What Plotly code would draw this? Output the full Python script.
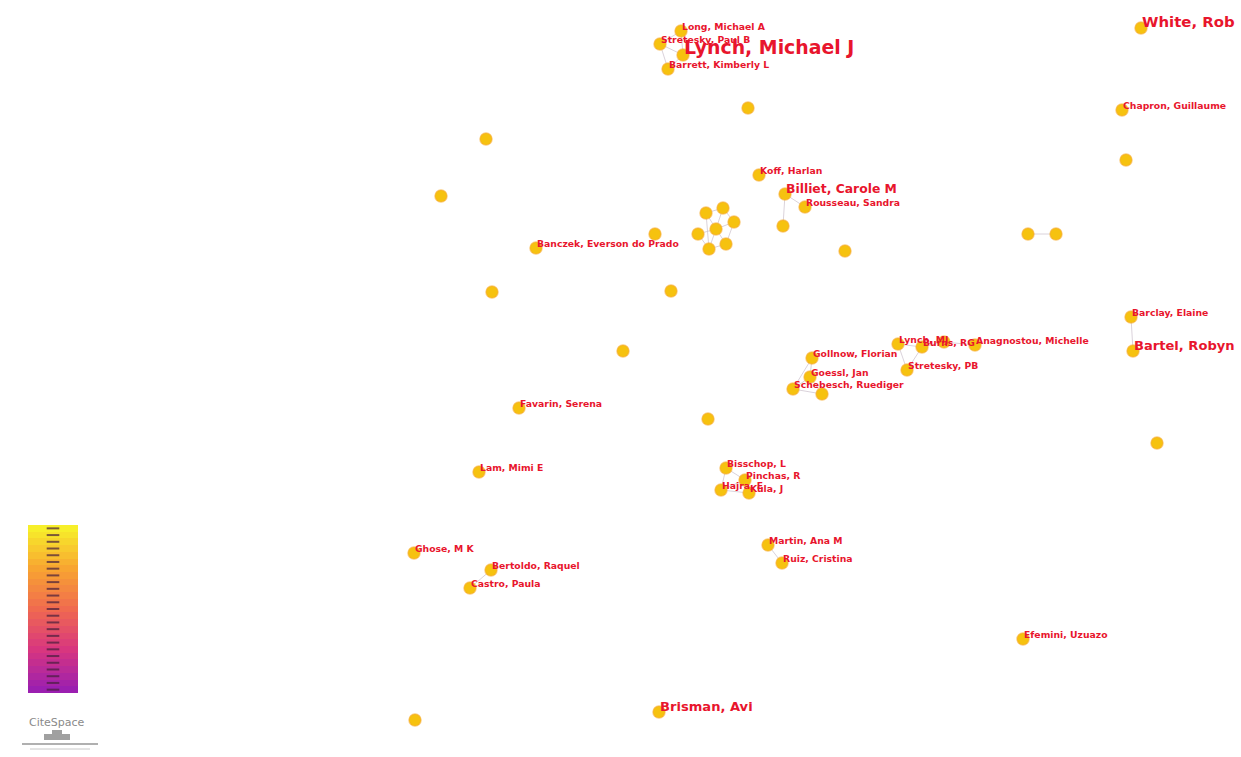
import math
import plotly.graph_objects as go

# Co-authorship network (CiteSpace layout, canvas coordinates)
node_labels = [
    "Long, Michael A", "Stretesky, Paul B", "Lynch, Michael J", "Barrett, Kimberly L",
    "", "", "", "White, Rob", "Chapron, Guillaume", "",
    "Koff, Harlan", "Billiet, Carole M", "Rousseau, Sandra", "",
    "", "", "", "", "", "", "", "",
    "Banczek, Everson do Prado", "", "", "", "", "", "",
    "Barclay, Elaine", "Bartel, Robyn",
    "Lynch, MJ", "Burns, RG", "Anagnostou, Michelle", "",
    "Gollnow, Florian", "Stretesky, PB", "Goessl, Jan", "Schebesch, Ruediger", "",
    "Favarin, Serena", "", "", "Lam, Mimi E",
    "Bisschop, L", "Pinchas, R", "Hajra, E", "Kula, J",
    "Ghose, M K", "Martin, Ana M", "Ruiz, Cristina", "Bertoldo, Raquel", "Castro, Paula",
    "Efemini, Uzuazo", "Brisman, Avi", "",
]
node_x = [
    681, 660, 683, 668,
    748, 486, 441, 1141, 1122, 1126,
    759, 785, 805, 783,
    706, 723, 734, 716, 698, 709, 726, 655,
    536, 845, 1028, 1056, 492, 671, 623,
    1131, 1133,
    898, 922, 975, 944,
    812, 907, 810, 793, 822,
    519, 708, 1157, 479,
    726, 745, 721, 749,
    414, 768, 782, 491, 470,
    1023, 659, 415,
]
node_y = [
    31, 44, 55, 69,
    108, 139, 196, 28, 110, 160,
    175, 194, 207, 226,
    213, 208, 222, 229, 234, 249, 244, 234,
    248, 251, 234, 234, 292, 291, 351,
    317, 351,
    344, 347, 345, 342,
    358, 370, 377, 389, 394,
    408, 419, 443, 472,
    468, 480, 490, 493,
    553, 545, 563, 570, 588,
    639, 712, 720,
]
node_count = [
    1, 1, 17, 1,
    1, 1, 1, 8, 1, 1,
    1, 4, 1, 1,
    1, 1, 1, 1, 1, 1, 1, 1,
    1, 1, 1, 1, 1, 1, 1,
    1, 5,
    1, 1, 1, 1,
    1, 1, 1, 1, 1,
    1, 1, 1, 1,
    1, 1, 1, 1,
    1, 1, 1, 1, 1,
    1, 5, 1,
]
edges = [
    (0, 1), (1, 2), (2, 3), (0, 2), (1, 3),
    (11, 13), (11, 12),
    (14, 15), (15, 16), (16, 17), (14, 17), (17, 18), (18, 19), (19, 20),
    (17, 20), (16, 20), (14, 19), (15, 17), (17, 19),
    (24, 25), (29, 30),
    (31, 32), (32, 34), (34, 33), (31, 36), (32, 36),
    (35, 37), (37, 38), (38, 39), (35, 38), (37, 39),
    (44, 45), (45, 46), (46, 47), (44, 46), (45, 47),
    (49, 50), (51, 52),
]

# Publication-year colour legend (old -> recent)
legend_years = list(range(2000, 2025))
legend_colors = [
    [0.0, "#9b1fb0"], [0.25, "#d8367f"], [0.5, "#f06a4f"],
    [0.75, "#f8a531"], [1.0, "#f7ef2a"],
]

W, H = 1241, 757
fig = go.Figure()

# links
ex, ey = [], []
for a, b in edges:
    ex += [node_x[a], node_x[b], None]
    ey += [node_y[a], node_y[b], None]
fig.add_trace(go.Scatter(
    x=ex, y=ey, mode="lines",
    line=dict(color="rgba(205,195,205,0.75)", width=1),
    hoverinfo="skip", showlegend=False,
))

# nodes
fig.add_trace(go.Scatter(
    x=node_x, y=node_y, mode="markers",
    marker=dict(size=12, color="#f6c20f",
                line=dict(color="rgba(246,170,40,0.6)", width=1.5)),
    text=node_labels, hoverinfo="text", showlegend=False,
))

# labels, sized by publication count
lab_x, lab_y, lab_t, lab_s = [], [], [], []
for name, x, y, c in zip(node_labels, node_x, node_y, node_count):
    if not name:
        continue
    s = 6.2 + 3.08 * math.sqrt(c)
    lab_x.append(x + 1)
    lab_y.append(y - 3 - (s - 9.5) * 0.25)
    lab_t.append("<b>" + name + "</b>")
    lab_s.append(s)
fig.add_trace(go.Scatter(
    x=lab_x, y=lab_y, mode="text", text=lab_t,
    textposition="middle right",
    textfont=dict(family="DejaVu Sans", size=lab_s, color="#e8152d"),
    hoverinfo="skip", showlegend=False,
))

# colour legend bar
n = len(legend_years)
y0, y1 = 693, 525
edges_y = [y0 + (y1 - y0) * i / n for i in range(n + 1)]
fig.add_trace(go.Heatmap(
    x=[28, 78], y=edges_y,
    z=[[i] for i in range(n)],
    colorscale=legend_colors, showscale=False, hoverinfo="skip",
))
tick_y = [(edges_y[i] + edges_y[i + 1]) / 2 for i in range(n)]
fig.add_trace(go.Scatter(
    x=[53] * n, y=tick_y, mode="markers",
    marker=dict(symbol="line-ew-open", size=9, color="rgba(70,30,60,0.7)",
                line=dict(color="rgba(70,30,60,0.7)", width=2)),
    hoverinfo="skip", showlegend=False,
))

# CiteSpace logo
fig.add_annotation(x=57, y=722, text="CiteSpace", showarrow=False,
                   font=dict(family="DejaVu Sans", size=11, color="#8a8a8a"))
fig.add_shape(type="rect", x0=44, x1=70, y0=734, y1=740,
              fillcolor="#a0a0a0", line_width=0)
fig.add_shape(type="rect", x0=52, x1=62, y0=730, y1=734,
              fillcolor="#a0a0a0", line_width=0)
fig.add_shape(type="line", x0=22, x1=98, y0=744, y1=744,
              line=dict(color="#b0b0b0", width=2))
fig.add_shape(type="line", x0=30, x1=90, y0=749, y1=749,
              line=dict(color="#c8c8c8", width=1))

fig.update_layout(
    width=W, height=H,
    margin=dict(l=0, r=0, t=0, b=0),
    paper_bgcolor="white", plot_bgcolor="white",
    xaxis=dict(range=[0, W], visible=False, fixedrange=True),
    yaxis=dict(range=[H, 0], visible=False, fixedrange=True),
)

fig.write_html("out.html")
